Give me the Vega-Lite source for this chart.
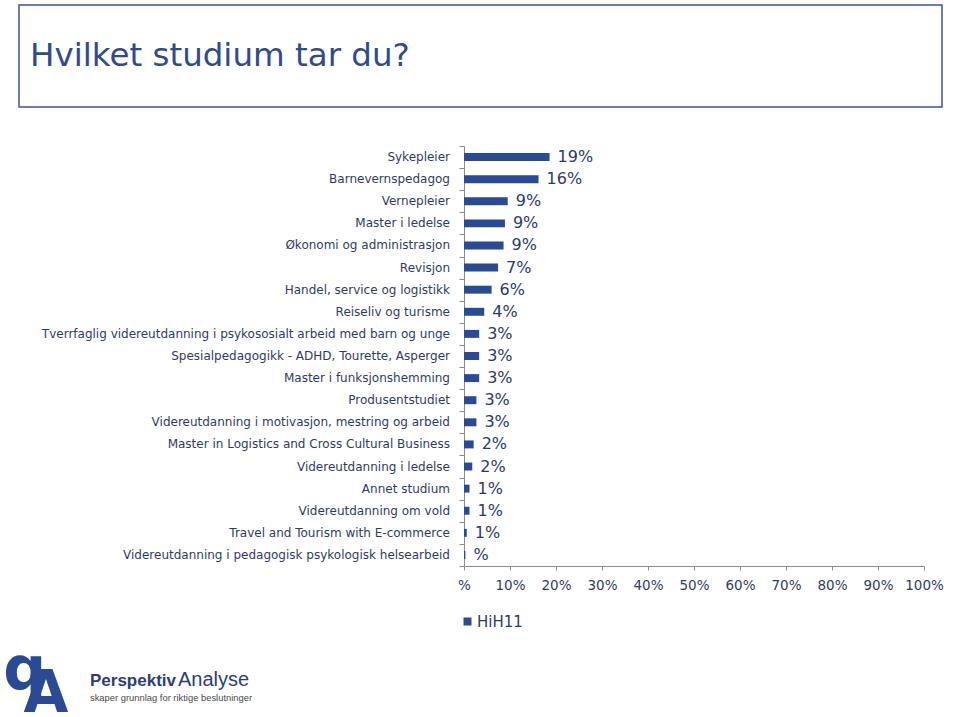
{
  "$schema": "https://vega.github.io/schema/vega-lite/v6.json",
  "padding": {"left": 3, "top": 4, "right": 0, "bottom": 0},
  "background": "white",
  "config": {"font": "DejaVu Sans", "view": {"stroke": null}},
  "datasets": {
    "studier": [
      {"studium": "Sykepleier", "andel": 18.6, "etikett": "19%", "serie": "HiH11"},
      {"studium": "Barnevernspedagog", "andel": 16.2, "etikett": "16%", "serie": "HiH11"},
      {"studium": "Vernepleier", "andel": 9.5, "etikett": "9%", "serie": "HiH11"},
      {"studium": "Master i ledelse", "andel": 8.9, "etikett": "9%", "serie": "HiH11"},
      {"studium": "Økonomi og administrasjon", "andel": 8.6, "etikett": "9%", "serie": "HiH11"},
      {"studium": "Revisjon", "andel": 7.4, "etikett": "7%", "serie": "HiH11"},
      {"studium": "Handel, service og logistikk", "andel": 6.0, "etikett": "6%", "serie": "HiH11"},
      {"studium": "Reiseliv og turisme", "andel": 4.4, "etikett": "4%", "serie": "HiH11"},
      {"studium": "Tverrfaglig videreutdanning i psykososialt arbeid med barn og unge", "andel": 3.3, "etikett": "3%", "serie": "HiH11"},
      {"studium": "Spesialpedagogikk - ADHD, Tourette, Asperger", "andel": 3.3, "etikett": "3%", "serie": "HiH11"},
      {"studium": "Master i funksjonshemming", "andel": 3.3, "etikett": "3%", "serie": "HiH11"},
      {"studium": "Produsentstudiet", "andel": 2.7, "etikett": "3%", "serie": "HiH11"},
      {"studium": "Videreutdanning i motivasjon, mestring og arbeid", "andel": 2.7, "etikett": "3%", "serie": "HiH11"},
      {"studium": "Master in Logistics and Cross Cultural Business", "andel": 2.1, "etikett": "2%", "serie": "HiH11"},
      {"studium": "Videreutdanning i ledelse", "andel": 1.8, "etikett": "2%", "serie": "HiH11"},
      {"studium": "Annet studium", "andel": 1.2, "etikett": "1%", "serie": "HiH11"},
      {"studium": "Videreutdanning om vold", "andel": 1.2, "etikett": "1%", "serie": "HiH11"},
      {"studium": "Travel and Tourism with E-commerce", "andel": 0.6, "etikett": "1%", "serie": "HiH11"},
      {"studium": "Videreutdanning i pedagogisk psykologisk helsearbeid", "andel": 0.3, "etikett": "%", "serie": "HiH11"}
    ]
  },
  "spacing": 37,
  "resolve": {"scale": {"color": "independent"}, "legend": {"color": "independent"}},
  "vconcat": [
    {
      "width": 923,
      "height": 102,
      "view": {"stroke": "#3B5592", "strokeWidth": 1.5},
      "title": {
        "text": "Hvilket studium tar du?",
        "anchor": "start",
        "orient": "top",
        "frame": "group",
        "offset": 0,
        "dx": 11,
        "dy": 93,
        "baseline": "alphabetic",
        "font": "DejaVu Sans",
        "fontSize": 32.5,
        "fontWeight": "normal",
        "color": "#2F4B8C"
      },
      "data": {"values": []},
      "mark": "point"
    },
    {
      "spacing": 11,
      "resolve": {"scale": {"color": "independent"}, "legend": {"color": "independent"}},
      "vconcat": [
        {
          "spacing": 7,
          "resolve": {"scale": {"color": "independent"}, "legend": {"color": "independent"}},
          "hconcat": [
            {
              "width": 431,
              "height": 420,
              "data": {"name": "studier"},
              "mark": {"type": "text", "align": "right", "baseline": "middle", "fontSize": 12, "color": "#2F3B63"},
              "encoding": {
                "y": {"field": "studium", "type": "nominal", "sort": null, "axis": null, "scale": {"paddingInner": 0, "paddingOuter": 0}},
                "x": {"datum": 1, "type": "quantitative", "scale": {"domain": [0, 1]}, "axis": null},
                "text": {"field": "studium"}
              }
            },
            {
              "width": 460,
              "height": 420,
              "data": {"name": "studier"},
              "encoding": {
                "y": {
                  "field": "studium", "type": "nominal", "sort": null,
                  "scale": {"paddingInner": 0, "paddingOuter": 0},
                  "axis": {"labels": false, "title": null, "tickBand": "extent", "ticks": true, "tickSize": 5, "domainColor": "#8C8C8C", "tickColor": "#8C8C8C", "grid": false}
                },
                "x": {
                  "field": "andel", "type": "quantitative",
                  "scale": {"domain": [0, 100], "nice": false},
                  "axis": {
                    "values": [0, 10, 20, 30, 40, 50, 60, 70, 80, 90, 100],
                    "labelExpr": "datum.value == 0 ? '%' : datum.value + '%'",
                    "labelOverlap": false,
                    "labelFlush": false,
                    "grid": false, "title": null, "tickSize": 4, "labelPadding": 8,
                    "labelFontSize": 13.5, "labelColor": "#2F3B63", "labelFont": "DejaVu Sans",
                    "domainColor": "#8C8C8C", "tickColor": "#8C8C8C"
                  }
                }
              },
              "layer": [
                {
                  "mark": {"type": "bar", "height": {"band": 0.36}},
                  "encoding": {
                    "color": {
                      "field": "serie", "type": "nominal",
                      "scale": {"range": ["#2A4A94"]},
                      "legend": {"orient": "none", "legendX": -4, "legendY": 468, "title": null, "symbolType": "square", "symbolSize": 64, "labelOffset": 2, "labelFontSize": 15, "labelColor": "#2F3B63", "labelFont": "DejaVu Sans"}
                    }
                  }
                },
                {
                  "mark": {"type": "text", "align": "left", "baseline": "middle", "dx": 8, "fontSize": 16, "color": "#2B3A6B"},
                  "encoding": {"text": {"field": "etikett"}}
                }
              ]
            }
          ]
        },
        {
          "width": 923,
          "height": 50,
          "data": {"values": [{}]},
          "encoding": {
            "x": {"datum": 0, "type": "quantitative", "scale": {"domain": [0, 1]}, "axis": null},
            "y": {"datum": 0, "type": "quantitative", "scale": {"domain": [0, 1]}, "axis": null}
          },
          "layer": [
            {
              "mark": {"type": "text", "text": "q", "font": "DejaVu Sans", "fontSize": 60, "fontWeight": "bold", "color": "#2A4A94", "align": "left", "baseline": "alphabetic"},
              "encoding": {"x": {"datum": -0.017, "type": "quantitative"}, "y": {"datum": 0.555, "type": "quantitative"}}
            },
            {
              "mark": {"type": "text", "text": "A", "font": "DejaVu Sans", "fontSize": 58, "fontWeight": "bold", "color": "#2A4A94", "align": "left", "baseline": "alphabetic"},
              "encoding": {"x": {"datum": 0.005, "type": "quantitative"}, "y": {"datum": 0.1, "type": "quantitative"}}
            },
            {
              "mark": {"type": "text", "text": "Perspektiv", "font": "Liberation Sans", "fontSize": 17, "fontWeight": "bold", "color": "#2B3E7A", "align": "left", "baseline": "alphabetic"},
              "encoding": {"x": {"datum": 0.0769, "type": "quantitative"}, "y": {"datum": 0.62, "type": "quantitative"}}
            },
            {
              "mark": {"type": "text", "text": "Analyse", "font": "Liberation Sans", "fontSize": 20, "fontWeight": "normal", "color": "#2B3E7A", "align": "left", "baseline": "alphabetic"},
              "encoding": {"x": {"datum": 0.1723, "type": "quantitative"}, "y": {"datum": 0.62, "type": "quantitative"}}
            },
            {
              "mark": {"type": "text", "text": "skaper grunnlag for riktige beslutninger", "font": "Liberation Sans", "fontSize": 9.4, "color": "#4A4A4A", "align": "left", "baseline": "alphabetic"},
              "encoding": {"x": {"datum": 0.0769, "type": "quantitative"}, "y": {"datum": 0.32, "type": "quantitative"}}
            }
          ]
        }
      ]
    }
  ]
}
